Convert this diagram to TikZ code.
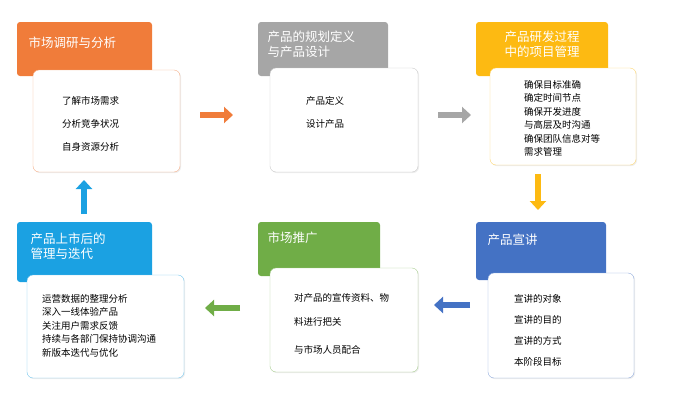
\documentclass[tikz,border=0pt]{standalone}
\usepackage{fontspec}
\newfontfamily\cjk{Noto Sans CJK SC}
\usetikzlibrary{positioning, shadows, arrows.meta}

\definecolor{cOrange}{HTML}{F07C3A}
\definecolor{cGray}{HTML}{A6A6A6}
\definecolor{cYellow}{HTML}{FDBA12}
\definecolor{cBlue}{HTML}{4472C4}
\definecolor{cGreen}{HTML}{70AD47}
\definecolor{cCyan}{HTML}{1BA1E2}

\tikzset{
  card/.style={draw=#1!60, fill=white, rounded corners=6pt,
    drop shadow={opacity=0.15, shadow xshift=1pt, shadow yshift=-1pt}},
  body/.style={anchor=north west, font=\cjk\fontsize{9.5}{13}\selectfont, align=left, inner sep=0pt},
  flow/.style={-{Triangle[length=9pt,width=16pt]}, line width=6pt, #1}
}

\begin{document}
\begin{tikzpicture}[x=1pt, y=-1pt]
  \useasboundingbox (0,0) rectangle (673,402);

  % headers
  \fill[cOrange, rounded corners=3pt] (17,22) rectangle (152,76);
  \node[text=white, anchor=west, font=\cjk\fontsize{12.5}{15}\selectfont] (h1) at (25,43) {市场调研与分析};
  \fill[cGray, rounded corners=3pt] (258,22) rectangle (388,76);
  \node[text=white, anchor=west, align=left, font=\cjk\fontsize{12.5}{15}\selectfont] (h2) at (264,44) {产品的规划定义\\与产品设计};
  \fill[cYellow, rounded corners=3pt] (476,22) rectangle (608,76);
  \node[text=white, anchor=center, align=center, font=\cjk\fontsize{12.5}{15}\selectfont] (h3) at (542,44) {产品研发过程\\中的项目管理};

  \fill[cCyan, rounded corners=3pt] (17,222) rectangle (152,282);
  \node[text=white, anchor=west, align=left, font=\cjk\fontsize{12.5}{15}\selectfont] (h6) at (27,246) {产品上市后的\\管理与迭代};
  \fill[cGreen, rounded corners=3pt] (258,222) rectangle (380,276);
  \node[text=white, anchor=west, font=\cjk\fontsize{12.5}{15}\selectfont] (h5) at (264,238) {市场推广};
  \fill[cBlue, rounded corners=3pt] (476,222) rectangle (606,280);
  \node[text=white, anchor=west, font=\cjk\fontsize{12.5}{15}\selectfont] (h4) at (484,240) {产品宣讲};

  % cards
  \filldraw[card=cOrange] (33,70) rectangle (180,172);
  \filldraw[card=cGray] (270,68) rectangle (418,172);
  \filldraw[card=cYellow] (490,68) rectangle (636,165);
  \filldraw[card=cBlue] (488,273) rectangle (634,378);
  \filldraw[card=cGreen] (270,268) rectangle (418,372);
  \filldraw[card=cCyan] (27,275) rectangle (184,378);

  % texts
  \node[body, font=\cjk\fontsize{9.5}{23}\selectfont] (t1) at (62,96) {了解市场需求\\分析竞争状况\\自身资源分析};
  \node[body, font=\cjk\fontsize{9.5}{23}\selectfont] (t2) at (306,96) {产品定义\\设计产品};
  \node[body, font=\cjk\fontsize{9.5}{13.5}\selectfont] (t3) at (524,80) {确保目标准确\\确定时间节点\\确保开发进度\\与高层及时沟通\\确保团队信息对等\\需求管理};
  \node[body, font=\cjk\fontsize{9.5}{21}\selectfont] (t4) at (514,294) {宣讲的对象\\宣讲的目的\\宣讲的方式\\本阶段目标};
  \node[body, font=\cjk\fontsize{9.5}{24}\selectfont] (t5) at (294,293) {对产品的宣传资料、物\\料进行把关\\[4pt]与市场人员配合};
  \node[body, font=\cjk\fontsize{9.5}{13.5}\selectfont] (t6) at (42,294) {运营数据的整理分析\\深入一线体验产品\\关注用户需求反馈\\持续与各部门保持协调沟通\\新版本迭代与优化};

  % arrows
  \coordinate (a1) at (200,115); \coordinate (b1) at (233,115);
  \coordinate (a2) at (438,115); \coordinate (b2) at (471,115);
  \coordinate (a3) at (538,174); \coordinate (b3) at (538,210);
  \coordinate (a4) at (470,305); \coordinate (b4) at (434,305);
  \coordinate (a5) at (240,308); \coordinate (b5) at (205,308);
  \coordinate (a6) at (84,214); \coordinate (b6) at (84,180);
  \draw[flow=cOrange] (a1) -- (b1);
  \draw[flow=cGray] (a2) -- (b2);
  \draw[flow=cYellow] (a3) -- (b3);
  \draw[flow=cBlue] (a4) -- (b4);
  \draw[flow=cGreen] (a5) -- (b5);
  \draw[flow=cCyan] (a6) -- (b6);
\end{tikzpicture}
\end{document}
